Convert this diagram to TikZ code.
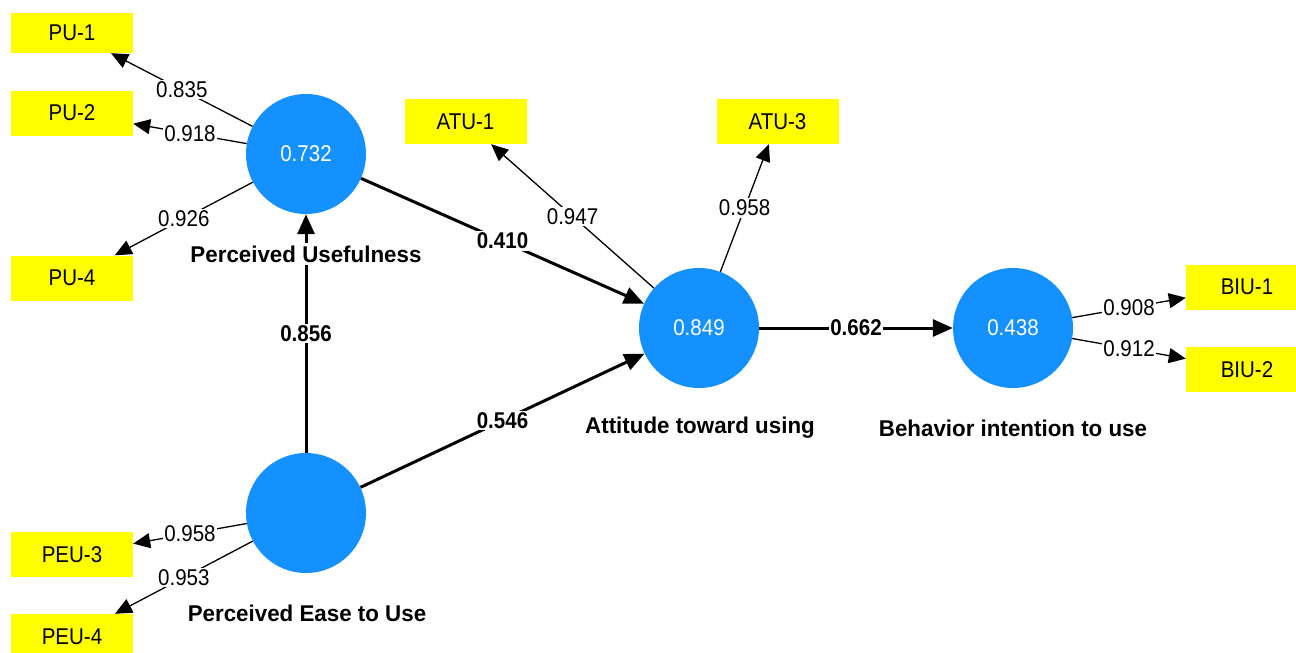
\documentclass[tikz,border=0pt]{standalone}
\usepackage{fontspec}
\setmainfont{Liberation Sans}[FakeStretch=0.9]
\newfontfamily\lblfont{Liberation Sans}[FakeStretch=0.98]
\usetikzlibrary{arrows.meta,calc}
\definecolor{lvblue}{RGB}{20,145,255}
\definecolor{indyellow}{RGB}{255,255,0}
\newcommand{\numfont}{\fontsize{22.8}{26}\selectfont}
\newcommand{\namefont}{\lblfont\bfseries\fontsize{22.8}{26}\selectfont}
\begin{document}
\begin{tikzpicture}[x=1pt,y=-1pt,
  lv/.style={circle, fill=lvblue, minimum size=120pt, inner sep=0pt, text=white, font=\numfont},
  ind/.style={rectangle, fill=indyellow, minimum width=122pt, minimum height=45pt, inner sep=0pt, font=\numfont},
  outerpath/.style={line width=1.3pt, -{Triangle[length=17pt,width=15pt]}},
  innerpath/.style={line width=3pt, -{Triangle[length=20pt,width=17pt]}},
  wt/.style={fill=white, inner sep=1.5pt, font=\numfont},
  wtb/.style={fill=white, inner sep=1.5pt, font=\numfont\bfseries},
  lvname/.style={fill=white, inner sep=3pt, font=\namefont}]
\useasboundingbox (0,0) rectangle (1296,653);
% latent variables
\node[lv] (pu) at (306,154) {0.732};
\node[lv] (peu) at (306,513) {};
\node[lv] (atu) at (699,328) {0.849};
\node[lv] (biu) at (1013,328) {0.438};
% indicators
\node[ind, minimum height=40pt] (pu1) at (72,33) {PU-1};
\node[ind] (pu2) at (72,113) {PU-2};
\node[ind] (pu4) at (72,278) {PU-4};
\node[ind] (peu3) at (72,554.5) {PEU-3};
\node[ind] (peu4) at (72,636.5) {PEU-4};
\node[ind] (atu1) at (465.5,121.5) {ATU-1};
\node[ind] (atu3) at (777.5,121.5) {ATU-3};
\node[ind] (biu1) at (1247,287) {BIU-1};
\node[ind] (biu2) at (1247,369.5) {BIU-2};
% outer loadings
\draw[outerpath] (pu) -- node[wt]{0.835} (pu1);
\draw[outerpath] (pu) -- node[wt]{0.918} (pu2);
\draw[outerpath] (pu) -- node[wt]{0.926} (pu4);
\draw[outerpath] (peu) -- node[wt]{0.958} (peu3);
\draw[outerpath] (peu) -- node[wt]{0.953} (peu4);
\draw[outerpath] (atu) -- node[wt]{0.947} (atu1);
\draw[outerpath] (atu) -- node[wt]{0.958} (atu3);
\draw[outerpath] (biu) -- node[wt]{0.908} (biu1);
\draw[outerpath] (biu) -- node[wt]{0.912} (biu2);
% inner paths
\draw[innerpath] (peu) -- node[wtb]{0.856} (pu);
\draw[innerpath] (pu) -- node[wtb]{0.410} (atu);
\draw[innerpath] (peu) -- node[wtb]{0.546} (atu);
\draw[innerpath] (atu) -- node[wtb]{0.662} (biu);
% construct names
\node[lvname] (punm) at (306,254) {Perceived Usefulness};
\node[lvname] (peunm) at (307,613) {Perceived Ease to Use};
\node[lvname] (atunm) at (700,428) {Attitude toward using};
\node[lvname] (biunm) at (1013,428) {Behavior intention to use};
\end{tikzpicture}
\end{document}
